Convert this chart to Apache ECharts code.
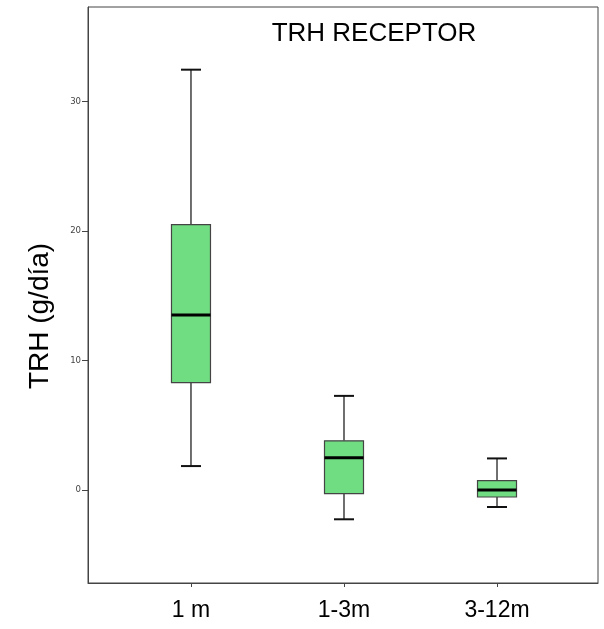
<!DOCTYPE html>
<html>
<head>
<meta charset="utf-8">
<script src="https://cdn.jsdelivr.net/npm/echarts@6/dist/echarts.min.js"></script>
<style>html,body{margin:0;padding:0;background:#fff;}#c{width:604px;height:629px;}</style>
</head>
<body>
<div id="c"></div>
<script>
var categories = ['1 m', '1-3m', '3-12m'];
var mins    = [1.85, -2.26, -1.31];
var q1s     = [8.29, -0.28, -0.54];
var medians = [13.51, 2.49, 0.0];
var q3s     = [20.5, 3.8, 0.72];
var maxs    = [32.46, 7.27, 2.44];
var yTicks  = [0, 10, 20, 30];

var positions = categories.map(function (c, i) { return i + 1; });
var boxData = categories.map(function (c, i) {
  return [positions[i], mins[i], q1s[i], medians[i], q3s[i], maxs[i]];
});

var chart = echarts.init(document.getElementById('c'));
chart.setOption({
  animation: false,
  backgroundColor: '#fff',
  title: {
    text: 'TRH RECEPTOR',
    left: 369, top: 16, textAlign: 'center',
    textStyle: { fontFamily: 'Liberation Sans', fontSize: 26, fontWeight: 'normal', color: '#000' }
  },
  graphic: [{
    type: 'text', x: 40, y: 316, rotation: Math.PI / 2,
    style: { text: 'TRH (g/día)', fontFamily: 'Liberation Sans', fontSize: 28, fill: '#000', align: 'center', verticalAlign: 'middle' }
  }],
  grid: { left: 88, top: 7, right: 6, bottom: 46, show: true, borderColor: '#444', borderWidth: 1, backgroundColor: 'transparent' },
  xAxis: {
    type: 'value', min: 0.327, max: 3.66,
    splitLine: { show: false },
    axisLine: { show: true, onZero: false, lineStyle: { color: '#444', width: 1 } },
    axisTick: { show: true, customValues: positions, length: 4, lineStyle: { color: '#444' } },
    axisLabel: {
      customValues: positions, margin: 16,
      fontFamily: 'Liberation Sans', fontSize: 23, color: '#000',
      formatter: function (v) { return categories[Math.round(v) - 1] || ''; }
    }
  },
  yAxis: {
    type: 'value', min: -7.18, max: 37.3,
    splitLine: { show: false },
    axisLine: { show: true, onZero: false, lineStyle: { color: '#444', width: 1 } },
    axisTick: { show: true, customValues: yTicks, length: 6, lineStyle: { color: '#444' } },
    axisLabel: {
      customValues: yTicks, margin: 7,
      fontFamily: 'DejaVu Sans Condensed', fontSize: 9.5, color: '#444'
    }
  },
  series: [{
    type: 'custom',
    data: boxData,
    encode: { x: 0, y: [1, 2, 3, 4, 5] },
    renderItem: function (params, api) {
      var x = api.value(0);
      var pMin = api.coord([x, api.value(1)]);
      var pQ1 = api.coord([x, api.value(2)]);
      var pMed = api.coord([x, api.value(3)]);
      var pQ3 = api.coord([x, api.value(4)]);
      var pMax = api.coord([x, api.value(5)]);
      var cx = pMin[0];
      var bw = 39, cw = 20;
      var lineStyle = { stroke: '#222', lineWidth: 1.3 };
      return {
        type: 'group',
        children: [
          { type: 'line', shape: { x1: cx, y1: pMax[1], x2: cx, y2: pQ3[1] }, style: lineStyle },
          { type: 'line', shape: { x1: cx, y1: pQ1[1], x2: cx, y2: pMin[1] }, style: lineStyle },
          { type: 'line', shape: { x1: cx - cw / 2, y1: pMax[1], x2: cx + cw / 2, y2: pMax[1] }, style: { stroke: '#111', lineWidth: 2 } },
          { type: 'line', shape: { x1: cx - cw / 2, y1: pMin[1], x2: cx + cw / 2, y2: pMin[1] }, style: { stroke: '#111', lineWidth: 2 } },
          { type: 'rect', shape: { x: cx - bw / 2, y: pQ3[1], width: bw, height: pQ1[1] - pQ3[1] }, style: { fill: '#70dd82', stroke: '#444', lineWidth: 1.2 } },
          { type: 'line', shape: { x1: cx - bw / 2, y1: pMed[1], x2: cx + bw / 2, y2: pMed[1] }, style: { stroke: '#000', lineWidth: 3 } }
        ]
      };
    }
  }]
});
</script>
</body>
</html>
